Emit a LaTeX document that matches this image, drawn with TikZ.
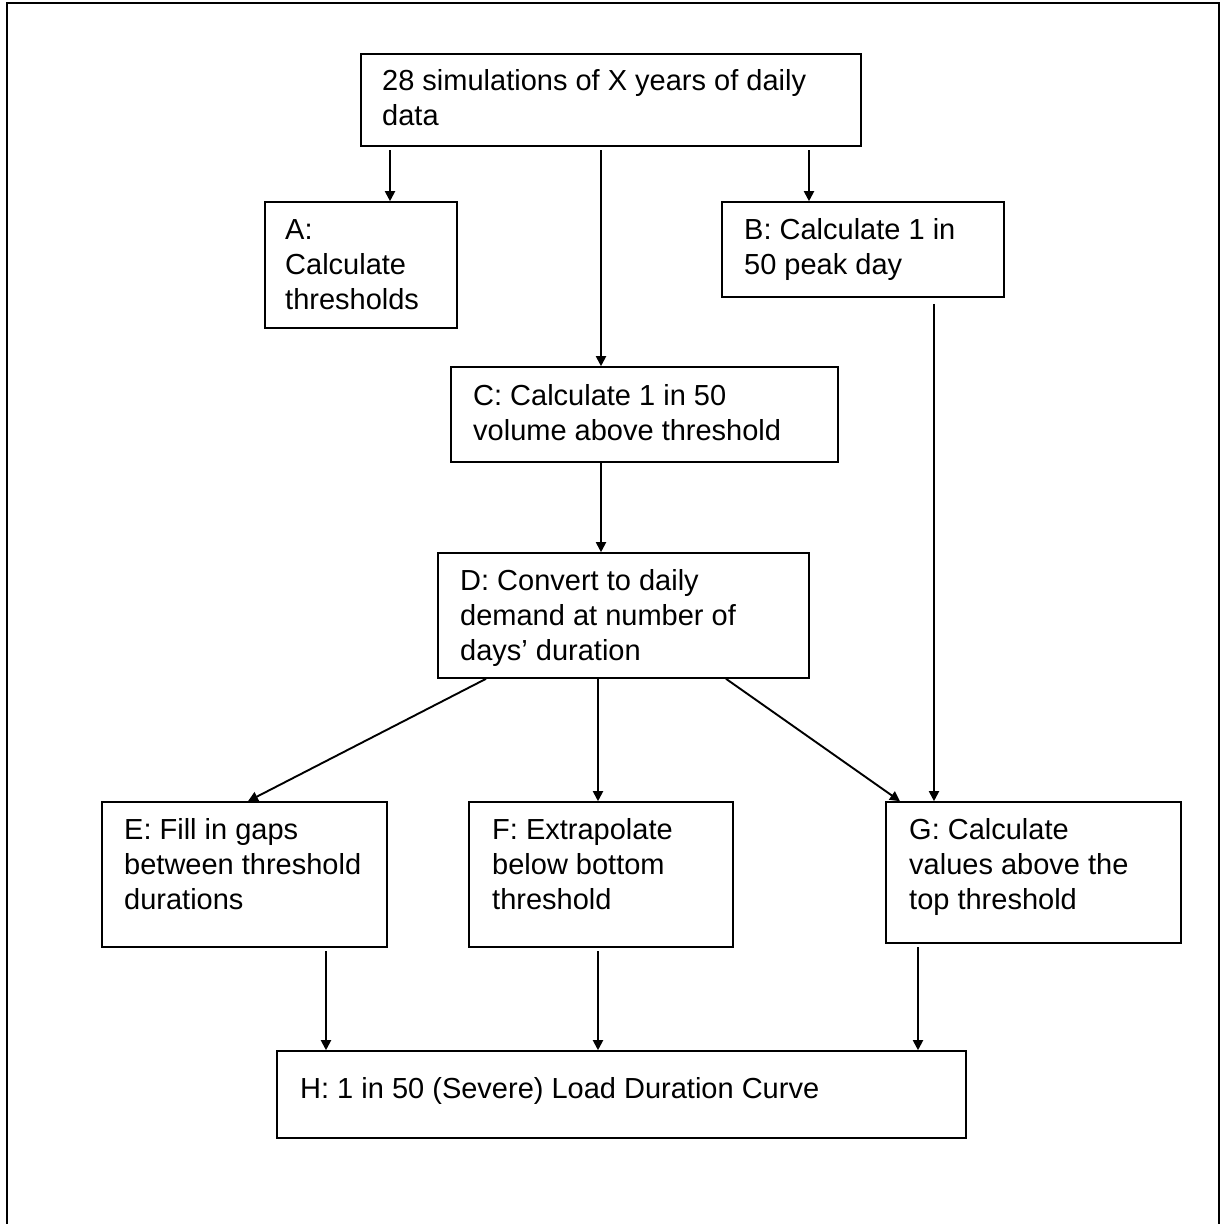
\documentclass[tikz,border=0pt]{standalone}
\usepackage{fontspec}
\setmainfont{Liberation Sans}
\usetikzlibrary{arrows.meta}
\begin{document}
\begin{tikzpicture}[x=1pt,y=-1pt,
  box/.style={draw, line width=1.6pt, inner sep=0pt},
  txt/.style={inner sep=0pt, anchor=base west, font=\fontsize{29}{35}\selectfont},
  arr/.style={line width=1.9pt, -{Triangle[length=10pt,width=10pt]}},
  gap/.style={shorten <=3.5pt},
]
\useasboundingbox (0,0) rectangle (1220,1224);
% outer frame
\draw[line width=1.7pt] (7,1230) -- (7,3) -- (1219,3) -- (1219,1230);

% boxes
\node[box, minimum width=500pt, minimum height=92pt]  (T) at (611,100) {};
\node[box, minimum width=192pt, minimum height=126pt] (A) at (361,265) {};
\node[box, minimum width=282pt, minimum height=95pt]  (B) at (863,249.5) {};
\node[box, minimum width=387pt, minimum height=95pt]  (C) at (644.5,414.5) {};
\node[box, minimum width=371pt, minimum height=125pt] (D) at (623.5,615.5) {};
\node[box, minimum width=285pt, minimum height=145pt] (E) at (244.5,874.5) {};
\node[box, minimum width=264pt, minimum height=145pt] (F) at (601,874.5) {};
\node[box, minimum width=295pt, minimum height=141pt] (G) at (1033.5,872.5) {};
\node[box, minimum width=689pt, minimum height=87pt]  (H) at (621.5,1094.5) {};

% texts
\node[txt] (tT) at (382,90)  {\parbox[t]{600pt}{28 simulations of X years of daily\\data}};
\node[txt] (tA) at (285,239) {\parbox[t]{600pt}{A:\\Calculate\\thresholds}};
\node[txt] (tB) at (744,239) {\parbox[t]{600pt}{B: Calculate 1 in\\50 peak day}};
\node[txt] (tC) at (473,405) {\parbox[t]{600pt}{C: Calculate 1 in 50\\volume above threshold}};
\node[txt] (tD) at (460,590) {\parbox[t]{600pt}{D: Convert to daily\\demand at number of\\days’ duration}};
\node[txt] (tE) at (124,839) {\parbox[t]{600pt}{E: Fill in gaps\\between threshold\\durations}};
\node[txt] (tF) at (492,839) {\parbox[t]{600pt}{F: Extrapolate\\below bottom\\threshold}};
\node[txt] (tG) at (909,839) {\parbox[t]{600pt}{G: Calculate\\values above the\\top threshold}};
\node[txt] (tH) at (300,1098) {H: 1 in 50 (Severe) Load Duration Curve};

% connectors
\draw[arr, gap] (T.south -| 390,0) -- (A.north -| 390,0);
\draw[arr, gap] (T.south -| 601,0) -- (C.north -| 601,0);
\draw[arr, gap] (T.south -| 809,0) -- (B.north -| 809,0);
\draw[arr] (C.south -| 601,0) -- (D.north -| 601,0);
\draw[arr] (D.south -| 486,0) -- (E.north -| 248,0);
\draw[arr] (D.south -| 598,0) -- (F.north -| 598,0);
\draw[arr] (D.south -| 726,0) -- (G.north -| 900,0);
\draw[arr, shorten <=6pt] (B.south -| 934,0) -- (G.north -| 934,0);
\draw[arr, gap] (E.south -| 326,0) -- (H.north -| 326,0);
\draw[arr, gap] (F.south -| 598,0) -- (H.north -| 598,0);
\draw[arr, gap] (G.south -| 918,0) -- (H.north -| 918,0);
\end{tikzpicture}
\end{document}
